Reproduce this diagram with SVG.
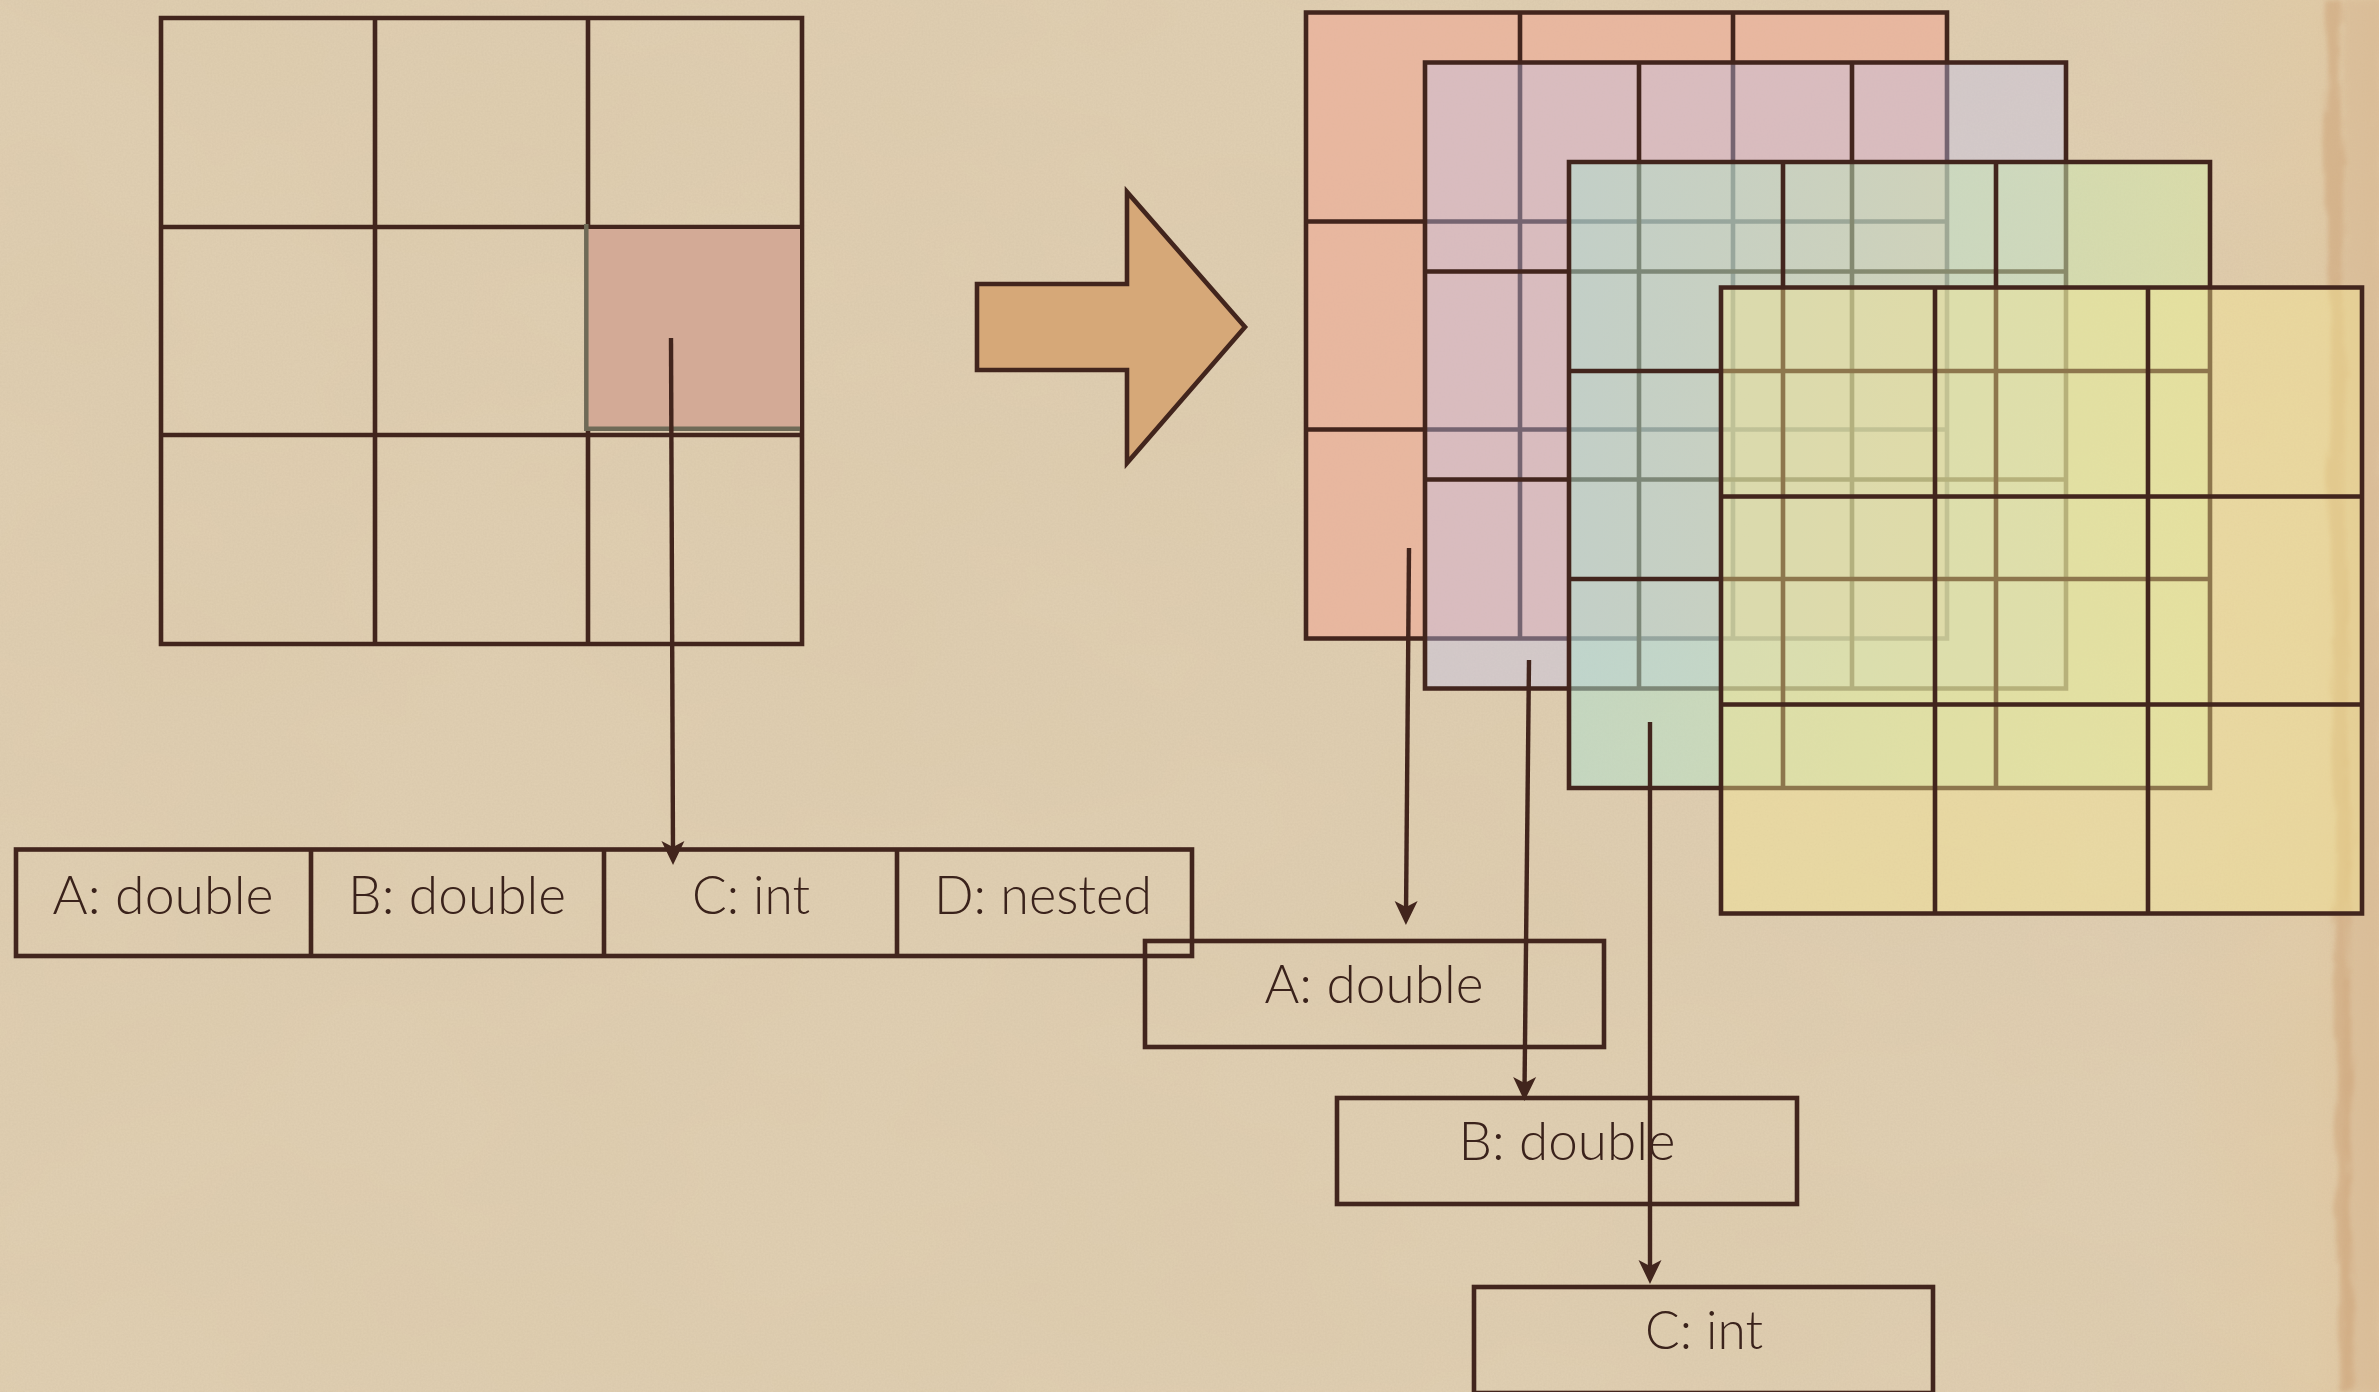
<svg xmlns="http://www.w3.org/2000/svg" xmlns:xlink="http://www.w3.org/1999/xlink" width="2379" height="1392" viewBox="0 0 2379 1392">
  <style>
    .ink { fill: none; stroke: #42251d; stroke-width: 4.6; }
    .wire { fill: none; stroke: #42251d; stroke-width: 4.4; marker-end: url(#head); }
    .label { font-family: "Lato", "Liberation Sans", "DejaVu Sans", sans-serif; font-weight: 300; font-size: 54px; fill: #3a221b; text-anchor: middle; }
  </style>
  <defs>
    <!-- 3x3 grid outline, 641 x 626 -->
    <path id="grid" d="M0,0 H641 V626 H0 Z M214,0 V626 M427,0 V626 M0,209 H641 M0,417 H641"/>
    <marker id="head" markerUnits="userSpaceOnUse" viewBox="-26 -14 40 28" refX="-10" refY="0" markerWidth="40" markerHeight="28" orient="auto">
      <path d="M0,0 L-24,-11.5 L-18,0 L-24,11.5 Z" fill="#42251d"/>
    </marker>
    <linearGradient id="tealFill" gradientUnits="userSpaceOnUse" x1="1569" y1="0" x2="2210" y2="0">
      <stop offset="0" stop-color="#aee0cf"/>
      <stop offset="0.55" stop-color="#c4e6b8"/>
      <stop offset="1" stop-color="#d4e9a6"/>
    </linearGradient>
    <linearGradient id="warmEdge" gradientUnits="userSpaceOnUse" x1="2150" y1="0" x2="2379" y2="0">
      <stop offset="0" stop-color="#e6c48e" stop-opacity="0"/>
      <stop offset="0.7" stop-color="#e6c48e" stop-opacity="0.25"/>
      <stop offset="1" stop-color="#dcb07e" stop-opacity="0.35"/>
    </linearGradient>
    <filter id="blotch" x="0" y="0" width="100%" height="100%">
      <feTurbulence type="fractalNoise" baseFrequency="0.003 0.005" numOctaves="4" seed="7"/>
      <feColorMatrix type="matrix" values="0 0 0 0 0.66  0 0 0 0 0.52  0 0 0 0 0.34  0 0 0 0.25 -0.08"/>
    </filter>
    <filter id="grain" x="0" y="0" width="100%" height="100%">
      <feTurbulence type="fractalNoise" baseFrequency="0.55" numOctaves="2" seed="2"/>
      <feColorMatrix type="matrix" values="0 0 0 0 0.5  0 0 0 0 0.4  0 0 0 0 0.28  0 0 0 0.2 -0.05"/>
    </filter>
    <filter id="fiber" x="-20%" y="0" width="140%" height="100%">
      <feTurbulence type="fractalNoise" baseFrequency="0.35 0.02" numOctaves="3" seed="5" result="n"/>
      <feDisplacementMap in="SourceGraphic" in2="n" scale="12" xChannelSelector="R" yChannelSelector="G"/>
      <feGaussianBlur stdDeviation="2.2"/>
    </filter>
  </defs>

  <!-- parchment -->
  <rect width="2379" height="1392" fill="#dfceb1"/>
  <rect width="2379" height="1392" filter="url(#blotch)"/>
  <rect width="2379" height="1392" filter="url(#grain)"/>
  <rect x="2150" width="229" height="1392" fill="url(#warmEdge)"/>
  <rect x="2344" width="35" height="1392" fill="#d6b690" opacity="0.4" filter="url(#fiber)"/>
  <path d="M2324,0 L2328,80 L2322,160 L2329,260 L2332,380 L2327,480 L2334,600 L2331,720 L2336,840 L2333,960 L2338,1080 L2335,1200 L2340,1300 L2338,1392 L2352,1392 L2354,1300 L2349,1200 L2353,1080 L2347,960 L2352,840 L2346,720 L2350,600 L2343,480 L2346,380 L2342,260 L2345,160 L2339,80 L2342,0 Z" fill="#c8996c" opacity="0.42" filter="url(#fiber)"/>

  <!-- source grid with the selected cell -->
  <g id="source-grid">
    <use href="#grid" class="ink" transform="translate(161,18)"/>
  </g>
  <g id="selected-cell">
    <rect x="588" y="229" width="212" height="201" fill="#d3aa96"/>
    <path d="M586.3,224 V428.8 H800" fill="none" stroke="#6f6a57" stroke-width="4.5"/>
  </g>

  <!-- block arrow -->
  <g id="transform-arrow">
    <polygon points="977,284 1127,284 1127,192 1245,327 1127,463 1127,370 977,370" fill="#d6a878" stroke="#42251d" stroke-width="4.6" stroke-linejoin="miter"/>
  </g>

  <!-- stacked column grids -->
  <g id="layer-a">
    <rect x="1306" y="12.5" width="641" height="626" fill="#ebb19b" fill-opacity="0.78"/>
    <use href="#grid" class="ink" transform="translate(1306,12.5)"/>
  </g>
  <g id="layer-b">
    <rect x="1425" y="62.5" width="641" height="626" fill="#c2c4ee" fill-opacity="0.4"/>
    <use href="#grid" class="ink" transform="translate(1425,62.5)"/>
  </g>
  <g id="layer-c">
    <rect x="1569" y="162" width="641" height="626" fill="url(#tealFill)" fill-opacity="0.52"/>
    <use href="#grid" class="ink" transform="translate(1569,162)"/>
  </g>
  <g id="layer-d">
    <rect x="1721" y="287.5" width="641" height="626" fill="#f5e792" fill-opacity="0.42"/>
    <use href="#grid" class="ink" transform="translate(1721,287.5)"/>
  </g>

  <!-- row record -->
  <g id="record-row">
    <rect x="16" y="849.5" width="1176" height="106.5" class="ink" stroke-width="5"/>
    <path d="M311,849.5 V956 M604,849.5 V956 M897,849.5 V956" class="ink"/>
    <text class="label" x="163" y="914" textLength="221" lengthAdjust="spacingAndGlyphs">A: double</text>
    <text class="label" x="457" y="914" textLength="218" lengthAdjust="spacingAndGlyphs">B: double</text>
    <text class="label" x="751" y="914" textLength="118" lengthAdjust="spacingAndGlyphs">C: int</text>
    <text class="label" x="1043" y="914" textLength="218" lengthAdjust="spacingAndGlyphs">D: nested</text>
  </g>

  <!-- column records -->
  <g id="column-a">
    <rect x="1145" y="941" width="459" height="106" class="ink" stroke-width="5"/>
    <text class="label" x="1374" y="1003" textLength="219" lengthAdjust="spacingAndGlyphs">A: double</text>
  </g>
  <g id="column-b">
    <rect x="1337" y="1098" width="460" height="106" class="ink" stroke-width="5"/>
    <text class="label" x="1567" y="1160" textLength="217" lengthAdjust="spacingAndGlyphs">B: double</text>
  </g>
  <g id="column-c">
    <rect x="1474" y="1287" width="459" height="106" class="ink" stroke-width="5"/>
    <text class="label" x="1704" y="1349" textLength="118" lengthAdjust="spacingAndGlyphs">C: int</text>
  </g>

  <!-- connectors -->
  <g id="connectors">
    <line class="wire" x1="671" y1="338" x2="673" y2="855"/>
    <line class="wire" x1="1409" y1="548" x2="1406" y2="915"/>
    <line class="wire" x1="1529" y1="660" x2="1524.5" y2="1091"/>
    <line class="wire" x1="1650" y1="722" x2="1650" y2="1274"/>
  </g>
</svg>
